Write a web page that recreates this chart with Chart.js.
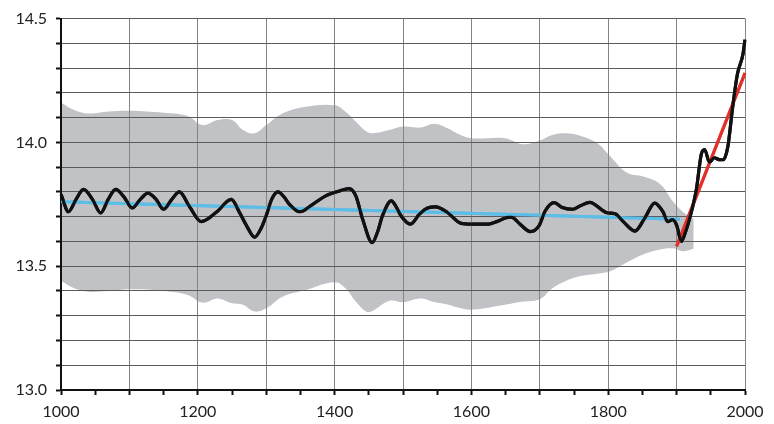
<!DOCTYPE html>
<html>
<head>
<meta charset="utf-8">
<script src="https://cdn.jsdelivr.net/npm/chart.js@4"></script>
<style>
  html, body { margin: 0; padding: 0; background: #fff; }
  #wrap { width: 774px; height: 424px; }
</style>
</head>
<body>
<div id="wrap"><canvas id="c"></canvas></div>
<script>
// black reconstruction
const lineYears = [1000,1011,1022,1033,1046,1058,1069,1080,1092,1104,1116,1127,1139,1150,1162,1173,1188,1205,1228,1249,
  1261,1272,1283,1292,1300,1308,1317,1326,1334,1349,1368,1387,1407,1414,1421,1431,1441,1455,1463,1470,
  1483,1490,1497,1511,1524,1536,1548,1565,1585,1600,1625,1637,1654,1659,1671,1686,1699,1708,1721,1733,
  1748,1760,1773,1798,1810,1822,1839,1853,1868,1880,1887,1894,1900,1907,1912,1919,1929,1936,1941,1948,
  1955,1963,1968,1975,1982,1989,1997,2000];
const lineTemps = [13.79,13.72,13.77,13.81,13.77,13.715,13.77,13.81,13.78,13.735,13.77,13.795,13.77,13.73,13.77,13.80,13.74,13.68,13.72,13.77,
  13.717,13.66,13.617,13.65,13.704,13.77,13.80,13.78,13.75,13.72,13.75,13.784,13.804,13.81,13.813,13.784,13.69,13.595,13.64,13.704,
  13.764,13.74,13.704,13.67,13.71,13.735,13.74,13.717,13.673,13.67,13.67,13.68,13.697,13.697,13.67,13.64,13.664,13.724,13.757,13.737,
  13.73,13.745,13.758,13.716,13.712,13.68,13.642,13.692,13.755,13.72,13.68,13.688,13.666,13.60,13.63,13.692,13.812,13.951,13.971,13.92,
  13.938,13.93,13.93,13.984,14.144,14.277,14.356,14.415];

// grey uncertainty band
const bandYears = [1000,1020,1040,1070,1100,1150,1185,1207,1229,1250,1266,1283,1300,1324,1358,1400,1416,1431,1446,1456,
  1480,1500,1526,1546,1565,1580,1600,1649,1675,1700,1718,1738,1760,1784,1803,1827,1851,1876,1895,1909,1925];
const bandUpper = [14.16,14.13,14.117,14.125,14.128,14.12,14.107,14.07,14.09,14.09,14.05,14.037,14.07,14.117,14.144,14.15,14.124,14.084,14.045,14.037,
  14.05,14.064,14.06,14.075,14.057,14.035,14.017,14.017,13.993,14.008,14.03,14.037,14.026,13.997,13.944,13.878,13.862,13.831,13.76,13.72,13.69];
const bandLower = [13.44,13.41,13.397,13.40,13.407,13.40,13.384,13.353,13.37,13.35,13.344,13.317,13.33,13.377,13.404,13.435,13.41,13.357,13.317,13.32,
  13.36,13.355,13.37,13.355,13.345,13.333,13.324,13.344,13.357,13.367,13.41,13.44,13.46,13.47,13.48,13.515,13.547,13.567,13.572,13.56,13.57];

// trend lines
const blueYears = [1000, 1905];
const blueTemps = [13.76, 13.69];
const redYears = [1900, 2000];
const redTemps = [13.58, 14.28];

const toPts = (xs, ys) => xs.map((x, i) => ({ x, y: ys[i] }));

const GRID_H = "#5a5a5a";
const GRID_V = "#858585";
const INK = "#111";
const FONT = { family: "Lato", size: 16 };

/* put the lines back over the grid (grid sits above the band) */
const linesOnTop = {
  id: "linesOnTop",
  afterDraw(chart) {
    [2, 1, 0].forEach((i) => chart.getDatasetMeta(i).controller.draw());
  },
};

new Chart(document.getElementById("c"), {
  type: "line",
  data: {
    datasets: [
      {
        data: toPts(lineYears, lineTemps),
        borderColor: INK,
        borderWidth: 3.2,
        pointRadius: 0,
        cubicInterpolationMode: "monotone",
        fill: false,
      },
      {
        data: toPts(redYears, redTemps),
        borderColor: "#e2312b",
        borderWidth: 3,
        pointRadius: 0,
        fill: false,
      },
      {
        data: toPts(blueYears, blueTemps),
        borderColor: "#5cbde6",
        borderWidth: 3,
        pointRadius: 0,
        fill: false,
      },
      {
        data: toPts(bandYears, bandUpper),
        borderWidth: 0,
        borderColor: "rgba(0,0,0,0)",
        backgroundColor: "#c1c2c6",
        pointRadius: 0,
        tension: 0.4,
        fill: "+1",
      },
      {
        data: toPts(bandYears, bandLower),
        borderWidth: 0,
        borderColor: "rgba(0,0,0,0)",
        pointRadius: 0,
        tension: 0.4,
        fill: false,
      },
    ],
  },
  options: {
    responsive: true,
    maintainAspectRatio: false,
    devicePixelRatio: 1,
    animation: false,
    layout: { padding: { top: 14, right: 29, left: 0, bottom: 0 } },
    plugins: {
      legend: { display: false },
      tooltip: { enabled: false },
    },
    scales: {
      x: {
        type: "linear",
        min: 1000,
        max: 2000,
        afterFit: (s) => { s.height = 34; },
        ticks: {
          stepSize: 50,
          autoSkip: false,
          maxRotation: 0,
          padding: 7,
          color: "#222",
          font: FONT,
          callback: (v) => (v % 200 === 0 ? String(v) : ""),
        },
        grid: {
          z: 1,
          color: (ctx) => (ctx.tick && ctx.tick.value % 100 === 0 ? GRID_V : "rgba(0,0,0,0)"),
          tickColor: INK,
          tickLength: 5,
          tickWidth: 2,
          lineWidth: 1,
        },
        border: { color: INK, width: 2, z: 2 },
      },
      y: {
        min: 13,
        max: 14.5,
        afterFit: (s) => { s.width = 61; },
        ticks: {
          stepSize: 0.1,
          autoSkip: false,
          padding: 9,
          color: "#222",
          font: FONT,
          callback: (v) => (Math.round(v * 10) % 5 === 0 ? v.toFixed(1) : ""),
        },
        grid: {
          z: 1,
          color: GRID_H,
          tickColor: INK,
          tickLength: 5,
          tickWidth: 2,
          lineWidth: 1,
        },
        border: { color: INK, width: 2, z: 2 },
      },
    },
  },
  plugins: [linesOnTop],
});
</script>
</body>
</html>
